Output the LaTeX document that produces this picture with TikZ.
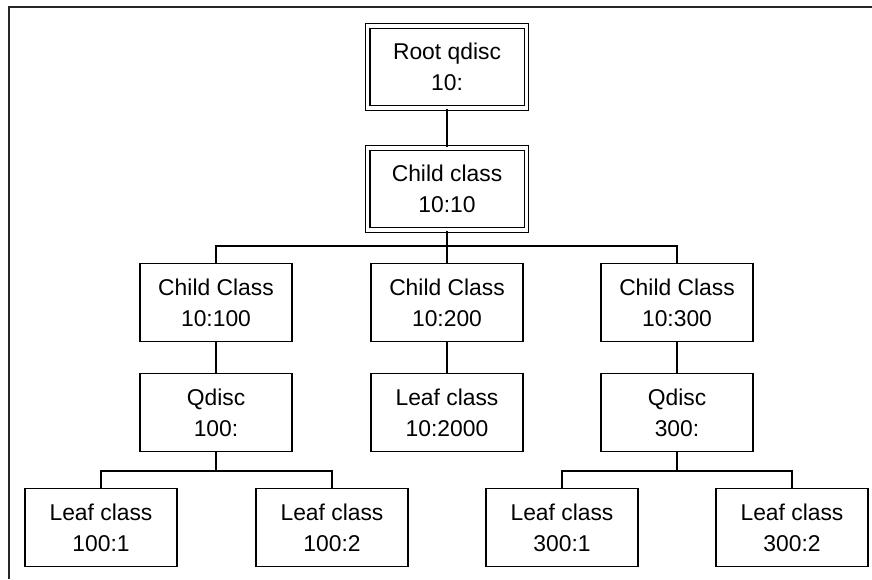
\documentclass[tikz,border=0pt]{standalone}
\usepackage{fontspec}
\setmainfont{Liberation Sans}

\tikzset{
	box/.style={draw,line width=0.6pt,minimum width=3.04cm,minimum height=1.56cm,inner sep=0pt,align=center,font=\fontsize{13}{17.5}\selectfont},
	topbox/.style={box,double,double distance=2.2pt,minimum width=3.18cm,minimum height=1.64cm},
	bus/.style={line width=0.6pt}
}

\begin{document}
\begin{tikzpicture}[x=0.02cm,y=-0.02cm]
	\useasboundingbox (0,0) rectangle (872,579);
	\draw[line width=1.1pt,black!85] (9,579) -- (9,7) -- (872,7);
	
	%root and first class
	\node[topbox] (root) at (447,67) {Root qdisc\\10:};
	\node[topbox] (c10) at (447,189) {Child class\\10:10};
	
	%second row
	\node[box] (c100) at (216,302.5) {Child Class\\10:100};
	\node[box] (c200) at (447,302.5) {Child Class\\10:200};
	\node[box] (c300) at (677,302.5) {Child Class\\10:300};
	
	%third row
	\node[box] (q100) at (216,412.5) {Qdisc\\100:};
	\node[box] (l2000) at (447,412.5) {Leaf class\\10:2000};
	\node[box] (q300) at (677,412.5) {Qdisc\\300:};
	
	%leaves
	\node[box] (l1001) at (101,527.5) {Leaf class\\100:1};
	\node[box] (l1002) at (332,527.5) {Leaf class\\100:2};
	\node[box] (l3001) at (562,527.5) {Leaf class\\300:1};
	\node[box] (l3002) at (792,527.5) {Leaf class\\300:2};
	
	\coordinate (bus1) at (447,246);
	\coordinate (bus2) at (216,471);
	\coordinate (bus3) at (677,471);
	
	\draw[bus] (root) -- (c10);
	\draw[bus] (c10) -- (c200);
	\draw[bus] (c100.north) |- (bus1) -| (c300.north);
	\draw[bus] (c100) -- (q100);
	\draw[bus] (c200) -- (l2000);
	\draw[bus] (c300) -- (q300);
	\draw[bus] (q100) -- (bus2);
	\draw[bus] (l1001.north) |- (bus2) -| (l1002.north);
	\draw[bus] (q300) -- (bus3);
	\draw[bus] (l3001.north) |- (bus3) -| (l3002.north);
	
\end{tikzpicture}
\end{document}
